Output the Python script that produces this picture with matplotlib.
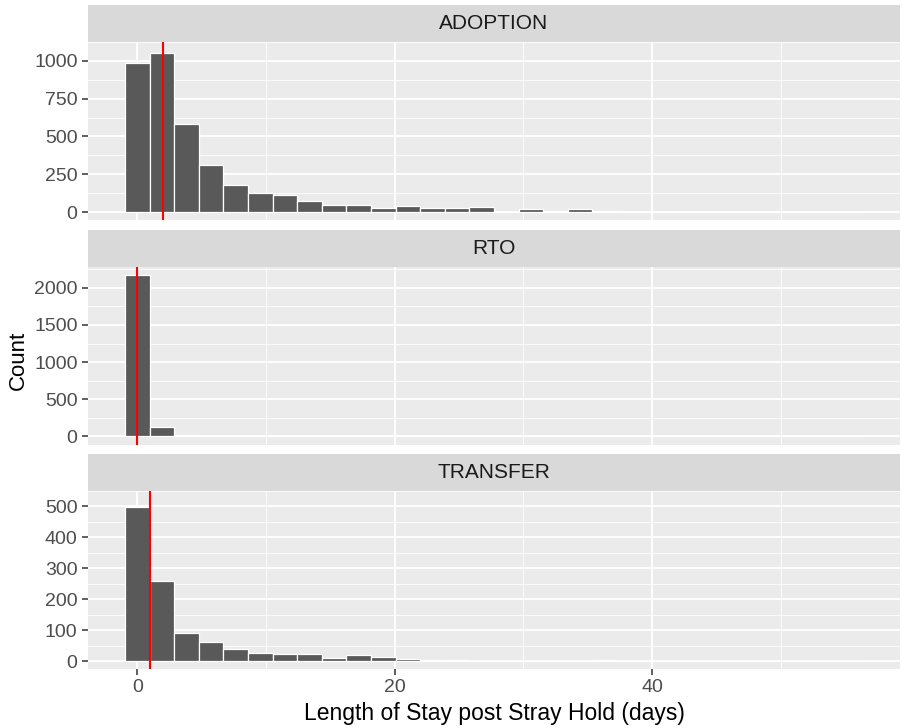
import matplotlib
matplotlib.use('Agg')
import matplotlib.pyplot as plt
import numpy as np

plt.rcParams['font.family'] = ['Liberation Sans', 'DejaVu Sans']

# histogram counts per 2-day bin (30 bins)
bin_width = 1.912
adoption = [987, 1053, 583, 314, 178, 125, 112, 73, 44, 48, 29, 40, 26, 24, 33,
            2, 20, 10, 18, 6, 1, 1, 2, 1, 1, 0, 1, 1, 0, 1]
rto = [2178, 133, 14, 3, 1, 1, 0, 0, 0, 0, 0, 0, 0, 0, 0,
       0, 0, 0, 0, 0, 0, 0, 0, 0, 0, 0, 0, 0, 0, 0]
transfer = [498, 259, 92, 62, 39, 27, 22, 22, 10, 21, 14, 9, 5, 3, 2,
            1, 1, 1, 1, 5, 1, 1, 1, 1, 0, 1, 0, 0, 0, 0]
medians = [2, 0, 1]
panels = ['ADOPTION', 'RTO', 'TRANSFER']
yticks = [[0, 250, 500, 750, 1000],
          [0, 500, 1000, 1500, 2000],
          [0, 100, 200, 300, 400, 500]]
xticks = [0, 20, 40]

W, H = 902, 728
fig = plt.figure(figsize=(W / 100, H / 100), dpi=100)

left, right = 88, 900
strip_h, panel_h = 37, 178
tops = [5, 229.5, 454]

data = [adoption, rto, transfer]
centers = np.arange(len(adoption)) * bin_width

for i, (name, counts) in enumerate(zip(panels, data)):
    st = tops[i]
    # strip
    sax = fig.add_axes([left / W, 1 - (st + strip_h) / H, (right - left) / W, strip_h / H])
    sax.set_facecolor('#D9D9D9')
    sax.set_xticks([])
    sax.set_yticks([])
    for s in sax.spines.values():
        s.set_visible(False)
    sax.text(0.5, 0.5, name, ha='center', va='center', fontsize=15, color='#1A1A1A',
             transform=sax.transAxes)

    pt = st + strip_h
    ax = fig.add_axes([left / W, 1 - (pt + panel_h) / H, (right - left) / W, panel_h / H])
    ax.set_facecolor('#EBEBEB')
    for s in ax.spines.values():
        s.set_visible(False)

    ax.bar(centers, counts, width=bin_width, color='#595959', edgecolor='white',
           linewidth=0.9, zorder=2)
    ax.axvline(medians[i], color='red', linewidth=1.5, zorder=3)

    ymax = max(counts)
    ax.set_ylim(-0.05 * ymax, 1.05 * ymax)
    xr = len(counts) * bin_width
    x0 = -bin_width / 2
    ax.set_xlim(x0 - 0.05 * xr, x0 + 1.05 * xr)

    yt = yticks[i]
    ax.set_yticks(yt)
    ax.set_yticks([(a + b) / 2 for a, b in zip(yt[:-1], yt[1:])] + [yt[-1] + (yt[1] - yt[0]) / 2],
                  minor=True)
    ax.set_xticks(xticks)
    ax.set_xticks([10, 30, 50], minor=True)
    ax.grid(which='major', color='white', linewidth=1.3, zorder=0)
    ax.grid(which='minor', color='white', linewidth=0.6, zorder=0)
    ax.set_axisbelow(True)
    ax.tick_params(axis='y', which='major', labelsize=14, labelcolor='#4D4D4D',
                   color='#333333', length=4, width=1.1)
    ax.tick_params(which='minor', length=0)
    if i < 2:
        ax.tick_params(axis='x', which='major', length=0, labelbottom=False)
    else:
        ax.tick_params(axis='x', which='major', labelsize=14, labelcolor='#4D4D4D',
                       color='#333333', length=4, width=1.1)
        ax.set_xlabel('Length of Stay post Stray Hold (days)', fontsize=16.5, labelpad=4)

fig.text(18 / W, 1 - 360 / H, 'Count', rotation=90, ha='center', va='center', fontsize=16)

fig.savefig('out.png', dpi=100)
